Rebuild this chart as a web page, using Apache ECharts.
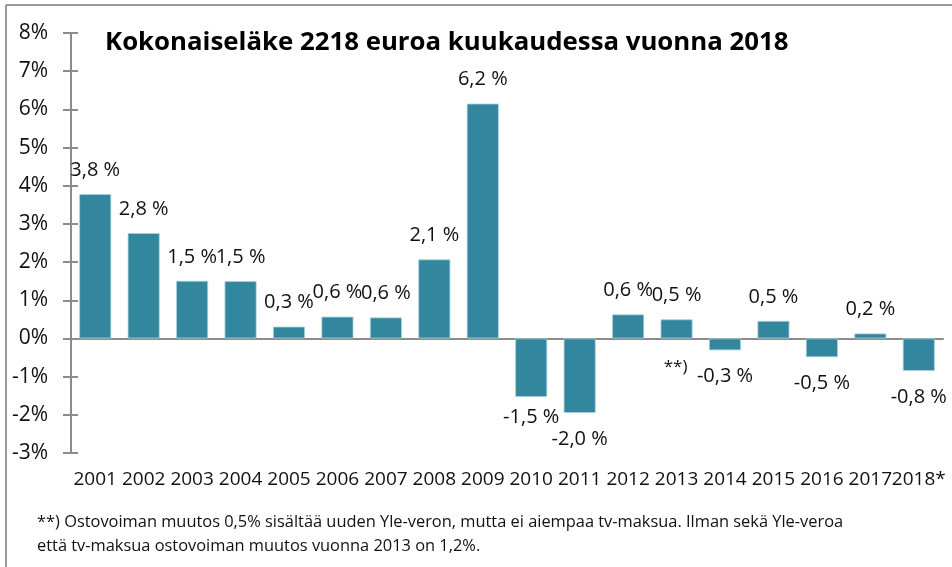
<!DOCTYPE html>
<html>
<head>
<meta charset="utf-8">
<script src="https://cdn.jsdelivr.net/npm/echarts@6/dist/echarts.min.js"></script>
<style>
html,body{margin:0;padding:0;background:#fff;}
#chart{width:952px;height:567px;}
</style>
</head>
<body>
<div id="chart"></div>
<script>
const years = ['2001','2002','2003','2004','2005','2006','2007','2008','2009','2010','2011','2012','2013','2014','2015','2016','2017','2018*'];
const values = [3.78, 2.76, 1.51, 1.50, 0.31, 0.57, 0.55, 2.07, 6.15, -1.53, -1.95, 0.63, 0.50, -0.31, 0.46, -0.49, 0.13, -0.85];
const valueLabels = ['3,8 %','2,8 %','1,5 %','1,5 %','0,3 %','0,6 %','0,6 %','2,1 %','6,2 %','-1,5 %','-2,0 %','0,6 %','0,5 %','-0,3 %','0,5 %','-0,5 %','0,2 %','-0,8 %'];
const yTicks = {min: -3, max: 8, step: 1};
const titleText = 'Kokonaiseläke 2218 euroa kuukaudessa vuonna 2018';
const noteMarkText = '**)';
const noteMarkYear = '2013';
const footnoteLines = [
  '**) Ostovoiman muutos 0,5% sisältää uuden Yle-veron, mutta ei aiempaa tv-maksua. Ilman sekä Yle-veroa',
  'että tv-maksua ostovoiman muutos vuonna 2013 on 1,2%.'
];

const FONT = '"Open Sans", "Noto Sans", sans-serif';
const AXIS_COLOR = '#8c8c8c';
const chart = echarts.init(document.getElementById('chart'), null, {renderer: 'canvas'});

const seriesData = values.map((v, i) => ({
  value: v,
  label: {
    position: v < 0 ? 'bottom' : 'top',
    distance: v < 0 ? (i === 9 ? 10 : 16) : 14
  }
}));

const option = {
  animation: false,
  backgroundColor: '#ffffff',
  grid: {left: 71, right: 9, top: 33, bottom: 114, containLabel: false},
  xAxis: [
    {
      type: 'category', data: years, position: 'bottom',
      axisLine: {show: false, onZero: false},
      axisTick: {show: false},
      axisLabel: {color: '#111', fontFamily: FONT, fontSize: 19, margin: 17, interval: 0}
    },
    {
      type: 'category', data: years, position: 'bottom',
      axisLine: {show: true, onZero: true, lineStyle: {color: AXIS_COLOR, width: 2}},
      axisTick: {show: false},
      axisLabel: {show: false}
    }
  ],
  yAxis: [
    {
      type: 'value', position: 'left', min: yTicks.min, max: yTicks.max, interval: yTicks.step,
      axisLine: {show: true, lineStyle: {color: AXIS_COLOR, width: 2}},
      axisTick: {show: true, inside: false, length: 8, lineStyle: {color: AXIS_COLOR, width: 2}},
      splitLine: {show: false},
      axisLabel: {color: '#111', fontFamily: FONT, fontSize: 21, margin: 23, formatter: '{value}%'}
    },
    {
      type: 'value', position: 'left', min: yTicks.min, max: yTicks.max, interval: yTicks.step,
      axisLine: {show: false},
      axisTick: {show: true, inside: true, length: 7, lineStyle: {color: AXIS_COLOR, width: 2}},
      splitLine: {show: false},
      axisLabel: {show: false}
    }
  ],
  series: [{
    type: 'bar',
    xAxisIndex: 0, yAxisIndex: 0,
    data: seriesData,
    barWidth: 32,
    itemStyle: {color: '#32869d', borderColor: '#a9d2de', borderWidth: 0.8},
    label: {
      show: true, color: '#111', fontFamily: FONT, fontSize: 20,
      formatter: p => valueLabels[p.dataIndex]
    }
  }],
  graphic: []
};
chart.setOption(option);

const markX = chart.convertToPixel({xAxisIndex: 0}, noteMarkYear);
const markY = chart.convertToPixel({yAxisIndex: 0}, -0.75);

chart.setOption({
  graphic: [
    {type: 'line', shape: {x1: 6, y1: 5, x2: 952, y2: 5}, style: {stroke: '#9a9a9a', lineWidth: 2}, silent: true},
    {type: 'line', shape: {x1: 6, y1: 5, x2: 6, y2: 567}, style: {stroke: '#9a9a9a', lineWidth: 2}, silent: true},
    {type: 'text', x: 105, y: 43, style: {text: titleText, fill: '#000', font: 'bold 25.8px ' + FONT, textVerticalAlign: 'middle', textAlign: 'left'}},
    {type: 'text', x: markX - 1, y: markY, style: {text: noteMarkText, fill: '#111', font: '17px ' + FONT, textVerticalAlign: 'middle', textAlign: 'center'}},
    {type: 'text', x: 37, y: 522, style: {text: footnoteLines[0], fill: '#111', font: '16.4px ' + FONT, textVerticalAlign: 'middle', textAlign: 'left'}},
    {type: 'text', x: 37, y: 546, style: {text: footnoteLines[1], fill: '#111', font: '16.4px ' + FONT, textVerticalAlign: 'middle', textAlign: 'left'}}
  ]
});
</script>
</body>
</html>
